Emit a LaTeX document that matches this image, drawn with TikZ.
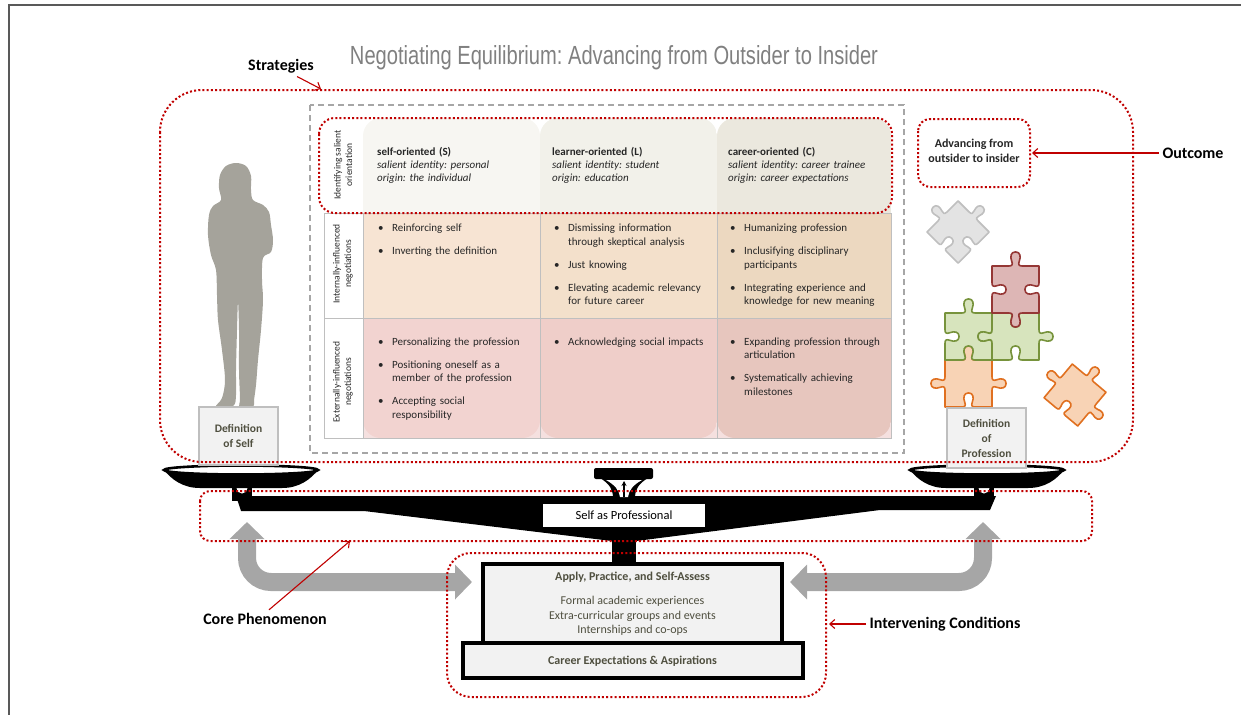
\documentclass[tikz,border=0pt]{standalone}
\usepackage{fontspec}
\setmainfont{Carlito}
\newfontfamily\titlefont{Liberation Sans}
\usetikzlibrary{arrows.meta}
\frenchspacing

\definecolor{dred}{HTML}{C00000}
\definecolor{dashgray}{HTML}{A6A6A6}
\definecolor{gridgray}{HTML}{BFBFBF}
\definecolor{silh}{HTML}{A5A39B}
\definecolor{boxfill}{HTML}{F2F2F2}
\definecolor{boxline}{HTML}{BFBFBF}
\definecolor{boxtext}{HTML}{4F4F3F}
\definecolor{arrowgray}{HTML}{A6A6A6}
\definecolor{titlegray}{HTML}{808080}
\definecolor{framegray}{HTML}{595959}
\definecolor{tabletext}{HTML}{262626}
% column tints: header / internal / external
\definecolor{hA}{HTML}{F7F6F2}\definecolor{iA}{HTML}{F7E4D3}\definecolor{eA}{HTML}{F2D3D0}
\definecolor{hB}{HTML}{F2F1EA}\definecolor{iB}{HTML}{F3E0CB}\definecolor{eB}{HTML}{EFCEC9}
\definecolor{hC}{HTML}{EBE8DE}\definecolor{iC}{HTML}{ECD8C0}\definecolor{eC}{HTML}{E7C6BE}
\definecolor{extback}{HTML}{F5E0DF}
% puzzle pieces
\definecolor{pzGrayF}{HTML}{E3E3E3}\definecolor{pzGrayD}{HTML}{BFBFBF}
\definecolor{pzRedF}{HTML}{DDB6B5}\definecolor{pzRedD}{HTML}{953735}
\definecolor{pzGreenF}{HTML}{D7E4BD}\definecolor{pzGreenD}{HTML}{77933C}
\definecolor{pzOrF}{HTML}{F8D3B5}\definecolor{pzOrD}{HTML}{E07020}

\newcommand\bitem[1]{\makebox[14pt][l]{\textbullet}#1}
\newcommand\cont{\hspace*{14pt}}

\tikzset{
  % jigsaw edges on the unit square, traversed clockwise from (0,1)
  topE/.style={insert path={-- (0.36,1) .. controls (0.44,1) and (0.44,{1+0.04*(#1)}) .. (0.42,{1+0.1*(#1)}) .. controls (0.38,{1+0.2*(#1)}) and (0.40,{1+0.3*(#1)}) .. (0.5,{1+0.3*(#1)}) .. controls (0.60,{1+0.3*(#1)}) and (0.62,{1+0.2*(#1)}) .. (0.58,{1+0.1*(#1)}) .. controls (0.56,{1+0.04*(#1)}) and (0.56,1) .. (0.64,1) -- (1,1)}},
  rightE/.style={insert path={-- (1,0.64) .. controls (1,0.56) and ({1+0.04*(#1)},0.56) .. ({1+0.1*(#1)},0.58) .. controls ({1+0.2*(#1)},0.62) and ({1+0.3*(#1)},0.60) .. ({1+0.3*(#1)},0.5) .. controls ({1+0.3*(#1)},0.40) and ({1+0.2*(#1)},0.38) .. ({1+0.1*(#1)},0.42) .. controls ({1+0.04*(#1)},0.44) and (1,0.44) .. (1,0.36) -- (1,0)}},
  bottomE/.style={insert path={-- (0.64,0) .. controls (0.56,0) and (0.56,{-0.04*(#1)}) .. (0.58,{-0.1*(#1)}) .. controls (0.62,{-0.2*(#1)}) and (0.60,{-0.3*(#1)}) .. (0.5,{-0.3*(#1)}) .. controls (0.40,{-0.3*(#1)}) and (0.38,{-0.2*(#1)}) .. (0.42,{-0.1*(#1)}) .. controls (0.44,{-0.04*(#1)}) and (0.44,0) .. (0.36,0) -- (0,0)}},
  leftE/.style={insert path={-- (0,0.36) .. controls (0,0.44) and ({-0.04*(#1)},0.44) .. ({-0.1*(#1)},0.42) .. controls ({-0.2*(#1)},0.38) and ({-0.3*(#1)},0.40) .. ({-0.3*(#1)},0.5) .. controls ({-0.3*(#1)},0.60) and ({-0.2*(#1)},0.62) .. ({-0.1*(#1)},0.58) .. controls ({-0.04*(#1)},0.56) and (0,0.56) .. (0,0.64) -- (0,1)}},
}

\begin{document}
\begin{tikzpicture}[x=1pt, y=-1pt,
  reddot/.style={draw=dred, line width=2pt, dash pattern=on 2pt off 2.2pt},
  redarrow/.style={draw=dred, line width=1.1pt, -{Straight Barb[length=5pt,width=9pt]}},
  grayarrow/.style={draw=arrowgray, line width=18pt, rounded corners=24pt,
    {Triangle[length=17pt,width=34pt]}-{Triangle[length=17pt,width=34pt]}},
  biglabel/.style={font=\fontsize{16}{19}\selectfont\bfseries, text=black},
  header/.style={anchor=north west, inner sep=0pt, align=left, text width=165pt,
    font=\fontsize{11}{13}\selectfont, text=tabletext},
  cell/.style={anchor=north west, inner sep=0pt, align=left, text width=165pt,
    font=\fontsize{11}{13.5}\selectfont, text=tabletext},
  rowlabel/.style={rotate=90, align=center, inner sep=0pt,
    font=\fontsize{9.5}{11.5}\selectfont, text=tabletext},
  defbox/.style={draw=boxline, line width=1.2pt, fill=boxfill, text=boxtext,
    align=center, font=\fontsize{11.5}{15}\selectfont\bfseries},
  pz/.style={line width=1.6pt, line join=round},
  stackbox/.style={draw=black, line width=4pt, fill=boxfill},
  stacktext/.style={text=boxtext, align=center},
]
\useasboundingbox (0,0) rectangle (1241,715);

% page frame
\draw[framegray, line width=2pt] (8,4.5) -- (1241,4.5);
\draw[framegray, line width=2pt] (8.7,4) -- (8.7,715);

% title
\node[anchor=base, text=titlegray, inner sep=0pt] (title) at (614,64)
  {\resizebox{528pt}{19pt}{\titlefont Negotiating Equilibrium: Advancing from Outsider to Insider}};

% frame around the strategy table
\draw[dashgray, line width=1.5pt, dash pattern=on 6pt off 4pt] (310,105) rectangle (904,453);

% strategy table: background of the bottom row, then rounded column panels
\fill[extback] (363,318) rectangle (891,438);
\foreach \xa/\xb/\h/\i/\e in {363/540/hA/iA/eA, 540/717/hB/iB/eB, 717/891/hC/iC/eC}{
  \begin{scope}
    \clip[rounded corners=18pt] (\xa,118) rectangle (\xb,438);
    \fill[\h] (\xa,118) rectangle (\xb,213);
    \fill[\i] (\xa,213) rectangle (\xb,318);
    \fill[\e] (\xa,318) rectangle (\xb,438);
  \end{scope}
}
\draw[gridgray, line width=1pt] (324,213) rectangle (891,438);
\draw[gridgray, line width=1pt] (324,318) -- (891,318);
\foreach \x in {363,540,717} \draw[gridgray, line width=1pt] (\x,213) -- (\x,438);

% row labels
\node[rowlabel] (rl1) at (343,165) {Identifying salient\\orientation};
\node[rowlabel] (rl2) at (343,264) {Internally-influenced\\negotiations};
\node[rowlabel] (rl3) at (343,382) {Externally-influenced\\negotiations};

% column headers
\node[header] (hS) at (377,146.9) {\textbf{self-oriented (S)}\\\textit{salient identity: personal}\\\textit{origin: the individual}};
\node[header] (hL) at (552,146.9) {\textbf{learner-oriented (L)}\\\textit{salient identity: student}\\\textit{origin: education}};
\node[header] (hC) at (728,146.9) {\textbf{career-oriented (C)}\\\textit{salient identity: career trainee}\\\textit{origin: career expectations}};

% internally-influenced negotiations
\node[cell] (iS) at (378,224) {\bitem{Reinforcing self}\\[9.5pt]\bitem{Inverting the definition}};
\node[cell] (iL) at (554,224) {\bitem{Dismissing information}\\\cont through skeptical analysis\\[9.5pt]\bitem{Just knowing}\\[9.5pt]\bitem{Elevating academic relevancy}\\\cont for future career};
\node[cell] (iC) at (730,224) {\bitem{Humanizing profession}\\[9.5pt]\bitem{Inclusifying disciplinary}\\\cont participants\\[9.5pt]\bitem{Integrating experience and}\\\cont knowledge for new meaning};

% externally-influenced negotiations
\node[cell] (eS) at (378,337.5) {\bitem{Personalizing the profession}\\[9.5pt]\bitem{Positioning oneself as a}\\\cont member of the profession\\[9.5pt]\bitem{Accepting social}\\\cont responsibility};
\node[cell] (eL) at (554,337.5) {\bitem{Acknowledging social impacts}};
\node[cell] (eC) at (730,337.5) {\bitem{Expanding profession through}\\\cont articulation\\[9.5pt]\bitem{Systematically achieving}\\\cont milestones};

% standing figure
\fill[silh] plot[smooth cycle, tension=0.55] coordinates {
  (236,163) (246,166) (251,176) (251,190) (253,200) (263,205) (269,212)
  (271,225) (273,240) (271,252) (263,258) (262,280) (263,300) (261,330)
  (258,360) (256,385) (254,400) (253,407) (240,407) (240,398) (239,370)
  (239,330) (238,302) (237,330) (236,370) (236,395) (233,406) (216,407)
  (222,398) (225,380) (222,350) (218,320) (217,295) (216,270) (211,255)
  (208,235) (209,215) (213,206) (221,200) (219,188) (220,175) (226,166)};

% puzzle pieces
\begin{scope}[shift={(945,407)}, x=47pt, y=47pt]
  \filldraw[pz, draw=pzOrD, fill=pzOrF] (0,1) [topE=1] [rightE=1] [bottomE=-1] [leftE=1] -- cycle;
\end{scope}
\begin{scope}[shift={(945,360)}, x=47pt, y=47pt]
  \filldraw[pz, draw=pzGreenD, fill=pzGreenF] (0,1) [topE=1] [rightE=-1] [bottomE=-1] [leftE=-1] -- cycle;
\end{scope}
\begin{scope}[shift={(992,360)}, x=47pt, y=47pt]
  \filldraw[pz, draw=pzGreenD, fill=pzGreenF] (0,1) [topE=-1] [rightE=1] [bottomE=-1] [leftE=1] -- cycle;
\end{scope}
\begin{scope}[shift={(992,313)}, x=47pt, y=47pt]
  \filldraw[pz, draw=pzRedD, fill=pzRedF] (0,1) [topE=1] [rightE=-1] [bottomE=1] [leftE=-1] -- cycle;
\end{scope}
\begin{scope}[shift={(958,232)}, rotate=45, x=44pt, y=44pt, xshift=-22pt, yshift=-22pt]
  \filldraw[pz, draw=pzGrayD, fill=pzGrayF] (0,1) [topE=1] [rightE=1] [bottomE=-1] [leftE=-1] -- cycle;
\end{scope}
\begin{scope}[shift={(1075,395)}, rotate=-40, x=44pt, y=44pt, xshift=-22pt, yshift=-22pt]
  \filldraw[pz, draw=pzOrD, fill=pzOrF] (0,1) [topE=1] [rightE=1] [bottomE=-1] [leftE=1] -- cycle;
\end{scope}

% gray feedback arrows
\coordinate (lUp) at (247,522);
\coordinate (lBend) at (247,582);
\coordinate (lTip) at (472,582);
\coordinate (rUp) at (983,522);
\coordinate (rBend) at (983,582);
\coordinate (rTip) at (790,582);
\draw[grayarrow] (lUp) -- (lBend) -- (lTip);
\draw[grayarrow] (rUp) -- (rBend) -- (rTip);

% balance: hangers, beam, pans, pointer, post
\fill[black] (232,487) rectangle (252,501);
\fill[black] (974,487) rectangle (994,501);
\begin{scope}
  \clip (232,487) rectangle (252,501);
  \fill[white] (242,488) circle (5.5);
\end{scope}
\begin{scope}
  \clip (974,487) rectangle (994,501);
  \fill[white] (984,488) circle (5.5);
\end{scope}
\fill[black] (236,496) -- (996,496) -- (990,510) -- (880,510) -- (636,541)
  -- (612,541) -- (364,511) -- (241,511) -- cycle;

\fill[black] (163,469) .. controls (172,480) and (183,488) .. (200,488) -- (282,488)
  .. controls (299,488) and (310,480) .. (319,469) -- cycle;
\draw[black, fill=white, line width=2.6pt] (241,470) ellipse [x radius=77, y radius=4.5];
\fill[black] (909,469) .. controls (918,480) and (929,488) .. (946,488) -- (1028,488)
  .. controls (1045,488) and (1056,480) .. (1065,469) -- cycle;
\draw[black, fill=white, line width=2.6pt] (987,470) ellipse [x radius=77, y radius=4.5];

\fill[black, rounded corners=2pt] (594,468) rectangle (653,479);
\fill[black] (600,478) .. controls (610,484) and (613,490) .. (613,498) -- (635,498)
  .. controls (635,490) and (638,484) .. (648,478) -- cycle;
\fill[white] (606,480) .. controls (615,485) and (619,490) .. (620,497) -- (628,497)
  .. controls (629,490) and (633,485) .. (642,480) -- cycle;
\draw[black, line width=1.4pt, -{Stealth[length=5pt,width=5pt]}] (624,497) -- (624,481);
\fill[black] (612,538) rectangle (636,564);

% definition boxes on the pans
\node[defbox, minimum width=79pt, minimum height=58pt, inner sep=0pt] (defSelf) at (238.5,436)
  {Definition\\of Self};
\node[defbox, minimum width=79pt, minimum height=60pt, inner sep=0pt] (defProf) at (986.5,438)
  {Definition\\of\\Profession};

% beam label
\node[fill=white, minimum width=162pt, minimum height=23pt, inner sep=0pt,
  font=\fontsize{12.5}{15}\selectfont] (selfProf) at (624,515.5) {Self as Professional};

% pedestal
\draw[stackbox] (483,564) rectangle (782,643);
\draw[stackbox] (463,643) rectangle (803,678);
\node[stacktext, font=\fontsize{12}{14}\selectfont\bfseries] (apply) at (632.5,577) {Apply, Practice, and Self-Assess};
\node[stacktext, font=\fontsize{12}{14.5}\selectfont] (applyList) at (632.5,616)
  {Formal academic experiences\\Extra-curricular groups and events\\Internships and co-ops};
\node[stacktext, font=\fontsize{12}{14}\selectfont\bfseries] (career) at (632.5,661) {Career Expectations \& Aspirations};

% outcome box
\node[font=\fontsize{12}{15}\selectfont\bfseries, align=center, text=tabletext] (advance) at (974,151)
  {Advancing from\\outsider to insider};

% dotted groupings
\draw[reddot, rounded corners=42pt] (160,90) rectangle (1133,462);
\draw[reddot, rounded corners=16pt] (319,118) rectangle (892,213);
\draw[reddot, rounded corners=12pt] (918,119) rectangle (1030,187);
\draw[reddot, rounded corners=10pt] (200,491) rectangle (1092,541);
\draw[reddot, rounded corners=24pt] (447,553) rectangle (826,697);

% group labels and pointers
\node[biglabel] (strat) at (281,66) {Strategies};
\node[biglabel] (outcome) at (1193,153) {Outcome};
\node[biglabel] (core) at (265,619) {Core Phenomenon};
\node[biglabel] (interv) at (945,624) {Intervening Conditions};

\coordinate (stratHead) at (321,89);
\coordinate (outHead) at (1032,153);
\coordinate (coreHead) at (350,541);
\coordinate (intHead) at (829,624);
\draw[redarrow] ([xshift=16pt]strat.south) -- (stratHead);
\draw[redarrow] (outcome.west) -- (outHead);
\draw[redarrow] ([xshift=4pt]core.north) -- (coreHead);
\draw[redarrow] (interv.west) -- (intHead);
\end{tikzpicture}
\end{document}
